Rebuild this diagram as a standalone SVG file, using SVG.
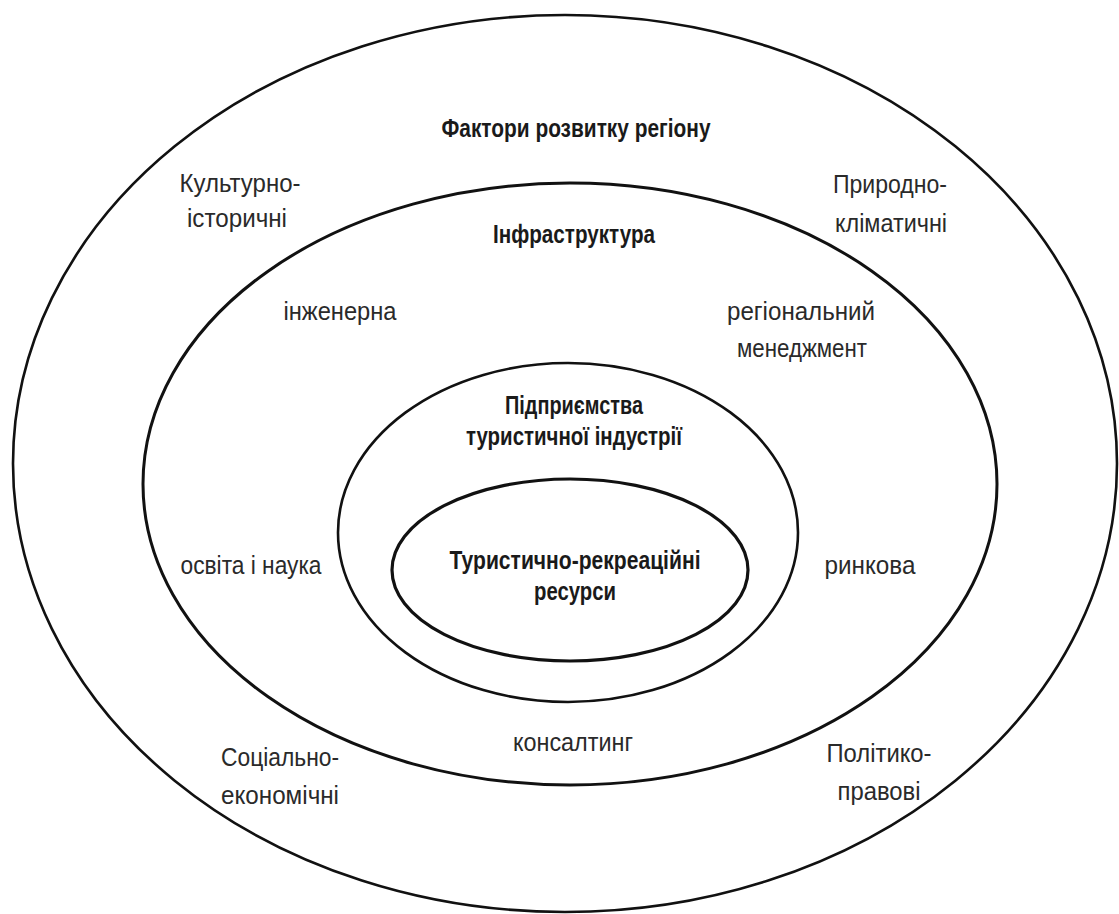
<svg xmlns="http://www.w3.org/2000/svg" width="1119" height="914" viewBox="0 0 1119 914">
<style>
  .ring { fill: none; stroke: #111; }
  .t { font-family: "Liberation Sans", "DejaVu Sans", sans-serif; font-size: 25px; fill: #2a2a2a; text-anchor: middle; }
  .b { font-weight: bold; fill: #1a1a1a; }
</style>
<rect width="1119" height="914" fill="#ffffff"/>
<g id="factors">
  <ellipse class="ring" cx="565" cy="463.5" rx="552" ry="448.5" stroke-width="2.6"/>
  <text class="t b" x="576" y="137" font-size="23.5" textLength="269" lengthAdjust="spacingAndGlyphs">Фактори розвитку регіону</text>
  <text class="t" x="240" y="192" textLength="121" lengthAdjust="spacingAndGlyphs">Культурно-</text>
  <text class="t" x="237" y="227" textLength="100" lengthAdjust="spacingAndGlyphs">історичні</text>
  <text class="t" x="890" y="193" textLength="114" lengthAdjust="spacingAndGlyphs">Природно-</text>
  <text class="t" x="891" y="232" textLength="112" lengthAdjust="spacingAndGlyphs">кліматичні</text>
  <text class="t" x="280" y="766" textLength="118" lengthAdjust="spacingAndGlyphs">Соціально-</text>
  <text class="t" x="280" y="804" textLength="118" lengthAdjust="spacingAndGlyphs">економічні</text>
  <text class="t" x="879" y="762" textLength="105" lengthAdjust="spacingAndGlyphs">Політико-</text>
  <text class="t" x="879" y="800" textLength="83" lengthAdjust="spacingAndGlyphs">правові</text>
</g>
<g id="infrastructure">
  <ellipse class="ring" cx="570" cy="484" rx="427" ry="301" stroke-width="3"/>
  <text class="t b" x="574" y="243" textLength="162" lengthAdjust="spacingAndGlyphs">Інфраструктура</text>
  <text class="t" x="340" y="320" textLength="113" lengthAdjust="spacingAndGlyphs">інженерна</text>
  <text class="t" x="801" y="320" textLength="148" lengthAdjust="spacingAndGlyphs">регіональний</text>
  <text class="t" x="802" y="357" textLength="130" lengthAdjust="spacingAndGlyphs">менеджмент</text>
  <text class="t" x="251" y="574" textLength="141" lengthAdjust="spacingAndGlyphs">освіта і наука</text>
  <text class="t" x="870" y="574" textLength="91" lengthAdjust="spacingAndGlyphs">ринкова</text>
  <text class="t" x="573" y="751" textLength="120" lengthAdjust="spacingAndGlyphs">консалтинг</text>
</g>
<g id="enterprises">
  <ellipse class="ring" cx="568" cy="532.5" rx="230" ry="169.5" stroke-width="2.6"/>
  <text class="t b" x="574" y="414" textLength="138" lengthAdjust="spacingAndGlyphs">Підприємства</text>
  <text class="t b" x="574" y="445" textLength="216" lengthAdjust="spacingAndGlyphs">туристичної індустрії</text>
</g>
<g id="resources">
  <ellipse class="ring" cx="570" cy="570" rx="178" ry="91" stroke-width="3.2"/>
  <text class="t b" x="575" y="569" textLength="251" lengthAdjust="spacingAndGlyphs">Туристично-рекреаційні</text>
  <text class="t b" x="575" y="600" textLength="82" lengthAdjust="spacingAndGlyphs">ресурси</text>
</g>
<g id="connectors"></g>
</svg>
